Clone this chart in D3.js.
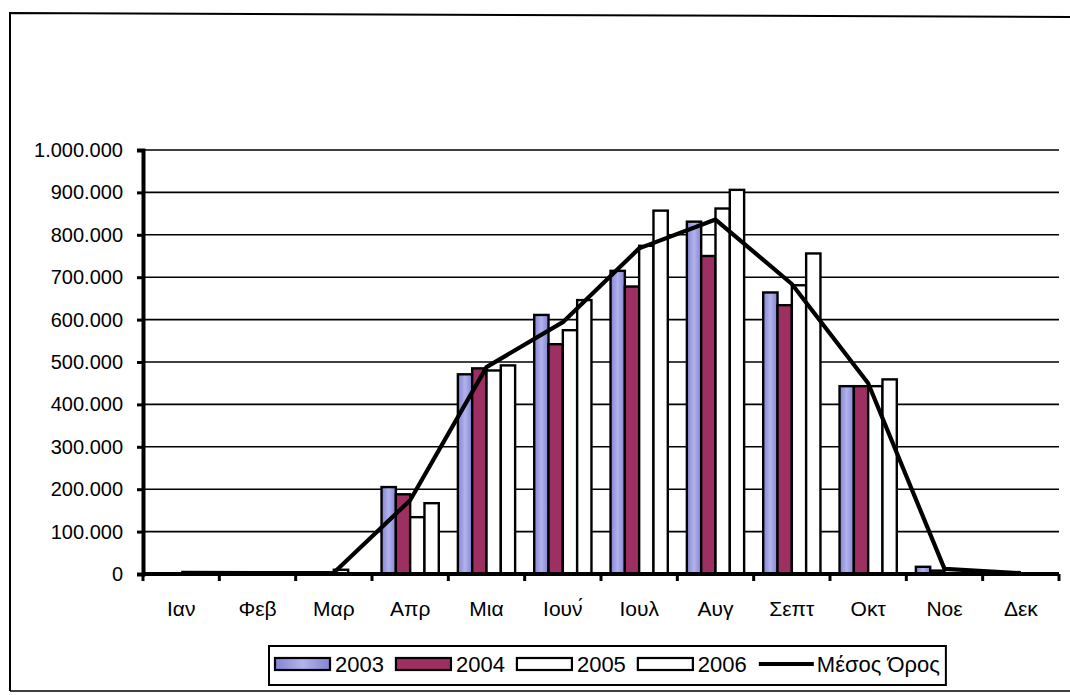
<!DOCTYPE html>
<html><head><meta charset="utf-8">
<script src="https://cdn.jsdelivr.net/npm/d3@7"></script>
<style>
html,body{margin:0;padding:0;background:#fff;}
text{font-family:"Liberation Sans",Arial,sans-serif;fill:#000;}
</style></head>
<body><svg id="c" width="1070" height="695"></svg>
<script>
const months = ["Ιαν","Φεβ","Μαρ","Απρ","Μια","Ιουν\u0301","Ιουλ","Αυγ","Σεπτ","Οκτ","Νοε","Δεκ"];
const seriesNames = ["2003","2004","2005","2006"];
const v2003 = [0,0,0,205000,471000,611000,715000,831000,664000,443000,17000,0];
const v2004 = [0,0,0,188000,485000,542000,678000,750000,634000,443000,8000,0];
const v2005 = [0,0,10000,134000,480000,575000,774000,862000,681000,443000,0,0];
const v2006 = [0,0,0,167000,492000,646000,857000,906000,756000,459000,0,0];
const avgName = "Μέσος Όρος";
const avgValues = [3000,2000,3000,174000,488000,594000,768000,836000,684000,450000,12000,2000];
const yTicks = [0,100000,200000,300000,400000,500000,600000,700000,800000,900000,1000000];

(function(){
const seriesValues = [v2003,v2004,v2005,v2006];
const colors = ["url(#g2003)","#9e2f62","#ffffff","#ffffff"];

const svg = d3.select("#c");
const defs = svg.append("defs");
const g = defs.append("linearGradient").attr("id","g2003").attr("x1","0").attr("x2","1").attr("y1","0").attr("y2","0");
g.append("stop").attr("offset","0%").attr("stop-color","#8484d4");
g.append("stop").attr("offset","50%").attr("stop-color","#b2b2ec");
g.append("stop").attr("offset","100%").attr("stop-color","#8484d4");

// outer frame
svg.append("path").attr("d","M10,691 L10,13 L1070,17").attr("fill","none").attr("stroke","#000").attr("stroke-width",2);
svg.append("line").attr("x1",10).attr("x2",1070).attr("y1",691).attr("y2",691).attr("stroke","#000").attr("stroke-width",1.5);

const pl = 143, pr = 1059, pt = 150, pb = 574;
const x = d3.scaleBand().domain(months).range([pl,pr]).paddingInner(0.25).paddingOuter(0.125);
const xs = d3.scaleBand().domain(seriesNames).range([0,x.bandwidth()]).padding(0);
const y = d3.scaleLinear().domain([0,1000000]).range([pb,pt]);
const loc = d3.formatLocale({decimal:",",thousands:".",grouping:[3],currency:["",""]});
const fmt = loc.format(",d");

// gridlines
svg.append("g").selectAll("line").data(yTicks.filter(d=>d>0)).join("line")
  .attr("x1",pl).attr("x2",pr).attr("y1",d=>y(d)).attr("y2",d=>y(d))
  .attr("stroke","#000").attr("stroke-width",1.6);

// bars
const gb = svg.append("g");
months.forEach((m,i)=>{
  seriesNames.forEach((s,j)=>{
    const val = seriesValues[j][i];
    if(val<=0) return;
    gb.append("rect").attr("x",x(m)+xs(s)).attr("width",xs.bandwidth())
      .attr("y",y(val)).attr("height",y(0)-y(val))
      .attr("fill",colors[j]).attr("stroke","#000").attr("stroke-width",2.4);
  });
});

// average line
const line = d3.line().x((d,i)=>x(months[i])+x.bandwidth()/2).y(d=>y(d));
svg.append("path").datum(avgValues).attr("d",line).attr("fill","none")
  .attr("stroke","#000").attr("stroke-width",4.2).attr("stroke-linejoin","round");

// y axis
const ya = svg.append("g").attr("transform",`translate(${pl},0)`)
  .call(d3.axisLeft(y).tickValues(yTicks).tickFormat(fmt).tickSize(6).tickPadding(14));
ya.select(".domain").attr("stroke","#000").attr("stroke-width",4);
ya.selectAll(".tick line").attr("stroke","#000").attr("stroke-width",3);
ya.selectAll("text").style("font-size","20px").attr("fill","#000");

// x axis
const boundaries = d3.range(13).map(i=>pl + i*(pr-pl)/12);
const xa = svg.append("g").attr("transform",`translate(0,${pb})`);
xa.append("line").attr("x1",pl).attr("x2",pr).attr("stroke","#000").attr("stroke-width",4);
xa.selectAll("line.t").data(boundaries).join("line").attr("class","t")
  .attr("x1",d=>d).attr("x2",d=>d).attr("y1",0).attr("y2",7).attr("stroke","#000").attr("stroke-width",3);
xa.selectAll("text").data(months).join("text")
  .attr("x",d=>x(d)+x.bandwidth()/2).attr("y",42).attr("text-anchor","middle")
  .style("font-size","21px").text(d=>d);

// legend (laid out from measured text widths)
const lg = svg.append("g");
const box = lg.append("rect").attr("fill","#fff").attr("stroke","#000").attr("stroke-width",2);
const fs = 22;
let cx = 0;
const inner = lg.append("g");
const entries = seriesNames.map((n,j)=>({name:n,fill:colors[j],type:"rect"}));
entries.push({name:avgName,type:"line"});
entries.forEach((e,k)=>{
  if(e.type==="rect"){
    inner.append("rect").attr("x",cx).attr("y",-6).attr("width",55).attr("height",12)
      .attr("fill",e.fill).attr("stroke","#000").attr("stroke-width",2.2);
    cx += 60;
  } else {
    inner.append("line").attr("x1",cx).attr("x2",cx+55).attr("y1",0).attr("y2",0)
      .attr("stroke","#000").attr("stroke-width",4.2);
    cx += 58;
  }
  const t = inner.append("text").attr("x",cx).attr("y",8)
    .style("font-size",fs+"px").text(e.name);
  cx += t.node().getComputedTextLength() + 12;
});
const totalW = cx - 12;
const lx = 275, ly = 664;
inner.attr("transform",`translate(${lx},${ly})`);
box.attr("x",lx-6).attr("y",646).attr("width",totalW+12).attr("height",39);
})();
</script></body></html>
